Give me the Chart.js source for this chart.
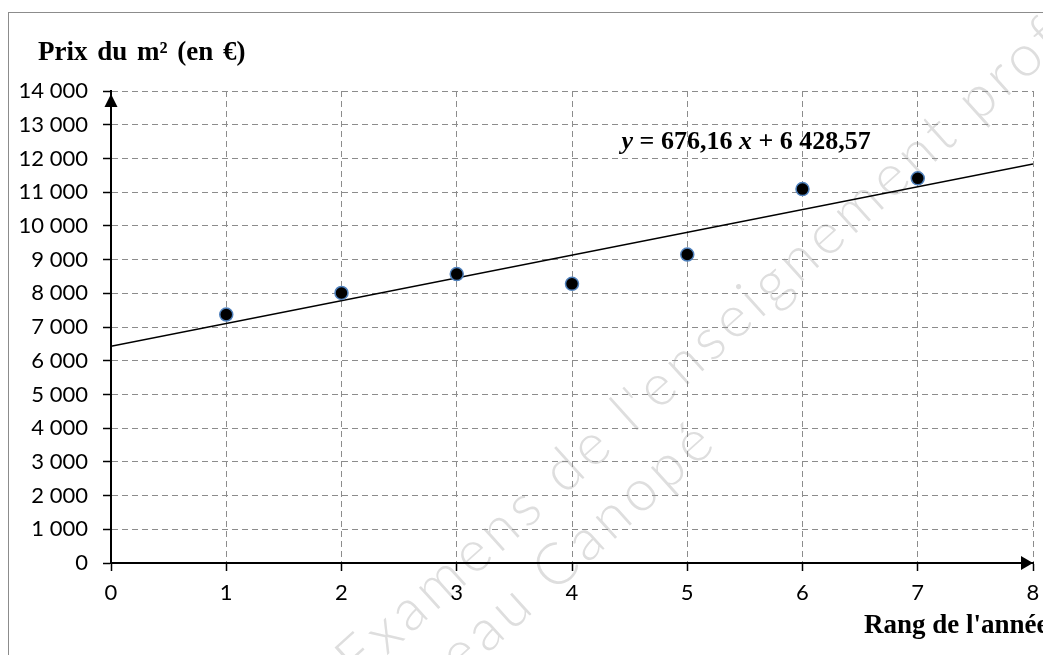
<!DOCTYPE html>
<html lang="fr">
<head>
<meta charset="utf-8">
<title>Prix du m²</title>
<script src="https://cdn.jsdelivr.net/npm/chart.js@4.4.0/dist/chart.umd.min.js"></script>
<style>
  html, body { margin: 0; padding: 0; background: #fff; overflow: hidden; }
  #cadre { position: absolute; left: 8px; top: 12px; width: 1200px; height: 800px; border: 1px solid #8c8c8c; }
  #zone { position: absolute; left: 0; top: 0; width: 1043px; height: 655px; }
</style>
</head>
<body>
<div id="cadre"></div>
<div id="zone"><canvas id="prixChart" width="1043" height="655"></canvas></div>
<script>
// Rang de l'année et prix du m²
const rangs = [1, 2, 3, 4, 5, 6, 7];
const prix = [7370, 8010, 8570, 8280, 9150, 11090, 11410];

// Droite d'ajustement affichée sur le graphique
const pente = 676.16;
const ordonnee = 6428.57;

// Bornes des axes
const bornesX = [0, 8];
const bornesY = [0, 14000];
const pasY = 1000;

function espaceMilliers(v) {
    return String(v).replace(/\B(?=(\d{3})+(?!\d))/g, ' ');
}

const points = rangs.map((r, i) => ({ x: r, y: prix[i] }));
const droite = bornesX.map(x => ({ x: x, y: ordonnee + pente * x }));

// Décor : filigrane, flèches des axes, titres, équation
const decor = {
    id: 'decor',
    beforeDraw(chart) {
        const ctx = chart.ctx;
        ctx.save();
        ctx.fillStyle = '#dedede';
        ctx.font = '300 58px Lato';
        ctx.letterSpacing = '5px';
        ctx.textBaseline = 'middle';
        ctx.translate(345, 668);
        ctx.rotate(-42 * Math.PI / 180);
        ctx.fillText("Examens de l'enseignement professionnel", 0, 0);
        const decal = ctx.measureText('Réseau ').width;
        ctx.fillText('Réseau Canopé', 205 - decal, 66);
        ctx.restore();
    },
    afterDraw(chart) {
        const ctx = chart.ctx;
        const a = chart.chartArea;
        ctx.save();
        ctx.fillStyle = '#000';

        // flèche axe vertical
        ctx.beginPath();
        ctx.moveTo(a.left, a.top + 3);
        ctx.lineTo(a.left - 6.5, a.top + 16);
        ctx.lineTo(a.left + 6.5, a.top + 16);
        ctx.closePath();
        ctx.fill();

        // flèche axe horizontal
        ctx.beginPath();
        ctx.moveTo(a.right, a.bottom);
        ctx.lineTo(a.right - 12, a.bottom - 7);
        ctx.lineTo(a.right - 12, a.bottom + 7);
        ctx.closePath();
        ctx.fill();

        // titres des axes
        ctx.textBaseline = 'alphabetic';
        ctx.textAlign = 'left';
        ctx.font = 'bold 27px "Liberation Serif"';
        ctx.wordSpacing = '3px';
        ctx.fillText('Prix du m² (en €)', 38, 60);
        ctx.wordSpacing = '0px';
        ctx.fillText("Rang de l'année", 864, 633);

        // équation de la droite
        const sx = chart.scales.x, sy = chart.scales.y;
        let x = sx.getPixelForValue(4.43);
        const y = sy.getPixelForValue(12280);
        const morceaux = [
            ['italic bold', 'y'],
            ['bold', ' = 676,16 '],
            ['italic bold', 'x'],
            ['bold', ' + 6 428,57']
        ];
        ctx.wordSpacing = '3px';
        morceaux.forEach(([style, txt]) => {
            ctx.font = style + ' 26px "Liberation Serif"';
            ctx.fillText(txt, x, y);
            x += ctx.measureText(txt).width;
        });
        ctx.restore();
    }
};

const ctx = document.getElementById('prixChart').getContext('2d');

const prixChart = new Chart(ctx, {
    type: 'scatter',
    data: {
        datasets: [{
            label: 'Prix du m²',
            data: points,
            pointRadius: 6.5,
            pointHoverRadius: 6.5,
            pointBackgroundColor: '#000',
            pointBorderColor: '#4f81bd',
            pointBorderWidth: 1.5,
            order: 1
        }, {
            type: 'line',
            label: 'Ajustement',
            data: droite,
            borderColor: '#000',
            borderWidth: 1.5,
            pointRadius: 0,
            fill: false,
            order: 2
        }]
    },
    options: {
        responsive: false,
        animation: false,
        devicePixelRatio: 1,
        layout: { padding: { top: 91, right: 10, left: 0, bottom: 0 } },
        plugins: {
            legend: { display: false },
            tooltip: { enabled: false }
        },
        scales: {
            x: {
                type: 'linear',
                min: bornesX[0],
                max: bornesX[1],
                afterFit: function(scale) {
                    scale.height = 92;
                    scale.paddingLeft = 0;
                    scale.paddingRight = 0;
                },
                ticks: {
                    stepSize: 1,
                    padding: 9,
                    color: '#000',
                    font: { family: 'Lato', size: 22 }
                },
                grid: {
                    color: '#8c8c8c',
                    lineWidth: 1,
                    tickColor: '#000',
                    tickWidth: 1.5,
                    tickLength: 8
                },
                border: { color: '#000', width: 2, dash: [6, 4] }
            },
            y: {
                type: 'linear',
                min: bornesY[0],
                max: bornesY[1],
                afterFit: function(scale) { scale.width = 111; },
                ticks: {
                    stepSize: pasY,
                    padding: 15,
                    color: '#000',
                    font: { family: 'Lato', size: 22 },
                    callback: function(value) { return espaceMilliers(value); }
                },
                grid: {
                    color: '#8c8c8c',
                    lineWidth: 1,
                    tickColor: '#000',
                    tickWidth: 1.5,
                    tickLength: 8
                },
                border: { color: '#000', width: 2, dash: [6, 4] }
            }
        }
    },
    plugins: [decor]
});
</script>
</body>
</html>
